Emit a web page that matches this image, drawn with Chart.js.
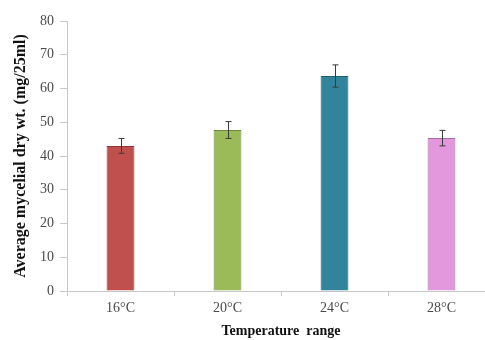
<!DOCTYPE html>
<html>
<head>
<meta charset="utf-8">
<script src="https://cdn.jsdelivr.net/npm/chart.js@4/dist/chart.umd.min.js"></script>
<style>
html,body{margin:0;padding:0;background:#fff;overflow:hidden;width:485px;height:340px;}
#wrap{width:495px;height:340px;position:relative;}
</style>
</head>
<body>
<div id="wrap"><canvas id="c" width="495" height="340"></canvas></div>
<script>
const categories = ["16°C", "20°C", "24°C", "28°C"];
const meanValues = [43.0, 47.7, 63.7, 45.3];
const errorValues = [2.2, 2.5, 3.3, 2.3];
const yTicks = [0, 10, 20, 30, 40, 50, 60, 70, 80];

const fillColors = ["#C0504D", "#9BBB59", "#31849B", "#E397DC"];
const edgeColors = ["#8C3836", "#71893F", "#215F70", "#A86BA3"];

const errorBarPlugin = {
  id: 'errorBars',
  afterDatasetsDraw(chart) {
    const ctx = chart.ctx;
    const yScale = chart.scales.y;
    const meta = chart.getDatasetMeta(0);
    ctx.save();
    ctx.strokeStyle = '#3a3a3a';
    ctx.lineWidth = 1;
    meta.data.forEach((bar, i) => {
      const x = Math.round(bar.x) + 0.5;
      const yHi = yScale.getPixelForValue(meanValues[i] + errorValues[i]);
      const yLo = yScale.getPixelForValue(meanValues[i] - errorValues[i]);
      ctx.beginPath();
      ctx.moveTo(x, yHi); ctx.lineTo(x, yLo);
      ctx.moveTo(x - 3, yHi); ctx.lineTo(x + 3, yHi);
      ctx.moveTo(x - 3, yLo); ctx.lineTo(x + 3, yLo);
      ctx.stroke();
    });
    ctx.restore();
  }
};

new Chart(document.getElementById('c'), {
  type: 'bar',
  data: {
    labels: categories,
    datasets: [{
      data: meanValues,
      backgroundColor: fillColors,
      borderColor: edgeColors,
      borderWidth: 1,
      barPercentage: 0.26,
      categoryPercentage: 1.0
    }]
  },
  options: {
    responsive: false,
    animation: false,
    layout: { padding: { top: 21, right: 0, left: 0, bottom: 0 } },
    plugins: { legend: { display: false }, tooltip: { enabled: false } },
    scales: {
      x: {
        grid: { display: true, drawOnChartArea: false, drawTicks: true, tickLength: 5, color: '#c8c8c8', offset: true },
        border: { display: true, color: '#c8c8c8', width: 1 },
        ticks: { color: '#4a4a4a', font: { family: 'Liberation Serif', size: 14 }, padding: 4 },
        title: { display: true, text: 'Temperature  range', color: '#111', font: { family: 'Liberation Serif', size: 14, weight: 'bold' }, padding: { top: 6, bottom: 0 } },
        afterFit(scale) { scale.height = 49; }
      },
      y: {
        min: 0, max: 80,
        afterBuildTicks(scale) { scale.ticks = yTicks.map(v => ({ value: v })); },
        grid: { display: true, drawOnChartArea: false, drawTicks: true, tickLength: 7, color: '#c8c8c8' },
        border: { display: true, color: '#c8c8c8', width: 1 },
        ticks: { color: '#4a4a4a', font: { family: 'Liberation Serif', size: 14 }, padding: 6 },
        title: { display: true, text: 'Average mycelial dry wt. (mg/25ml)', color: '#111', font: { family: 'Liberation Serif', size: 16, weight: 'bold' }, padding: { top: 11, bottom: 4 } },
        afterFit(scale) { scale.width = 67; }
      }
    }
  },
  plugins: [errorBarPlugin]
});
</script>
</body>
</html>
